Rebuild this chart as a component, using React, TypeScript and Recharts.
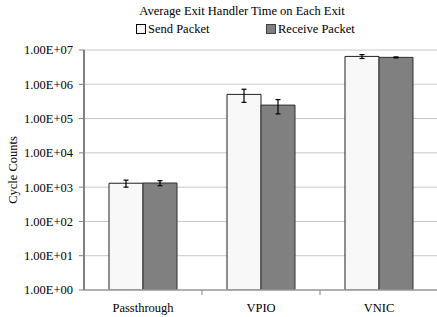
import React from 'react';
import { BarChart, Bar, XAxis, YAxis, CartesianGrid, ErrorBar, Legend } from 'recharts';

const categories = ['Passthrough', 'VPIO', 'VNIC'];
const sendValues = [1300, 507000, 6500000];
const sendErrors = [300, 210000, 850000];
const receiveValues = [1320, 247000, 6100000];
const receiveErrors = [220, 110000, 200000];
const yTicks = [1, 10, 100, 1000, 10000, 100000, 1000000, 10000000];
const seriesNames = ['Send Packet', 'Receive Packet'];
const title = 'Average Exit Handler Time on Each Exit';

const data = categories.map((c, i) => ({
  name: c,
  send: sendValues[i],
  sendErr: sendErrors[i],
  receive: receiveValues[i],
  receiveErr: receiveErrors[i],
}));

const CHART_W = 438;
const CHART_H = 317;
const Y_AXIS_W = 84;
const BAND = (CHART_W - Y_AXIS_W) / categories.length;
const FONT = 'Liberation Serif';

const fmt = (v: number) => {
  const e = Math.round(Math.log10(v));
  return '1.00E+' + (e < 10 ? '0' + e : String(e));
};

const XTick = (props: any) => {
  const { x, y, payload, index } = props;
  return (
    <g>
      <text x={x} y={y + 22} textAnchor="middle" fontFamily={FONT} fontSize={12.5} fill="#000">
        {payload.value}
      </text>
      {index < categories.length - 1 && (
        <line x1={x + BAND / 2} x2={x + BAND / 2} y1={y} y2={y + 5} stroke="#808080" strokeWidth={1} />
      )}
    </g>
  );
};

const LegendContent = () => (
  <div style={{ position: 'relative', width: CHART_W, height: 40, fontFamily: FONT, fontSize: 12.5, color: '#000' }}>
    <div style={{ position: 'absolute', left: 0, width: 484, top: 4, textAlign: 'center', lineHeight: '14px' }}>{title}</div>
    <div style={{ position: 'absolute', left: 136, top: 22, display: 'flex', alignItems: 'center', lineHeight: '14px' }}>
      <span style={{ display: 'inline-block', width: 8, height: 8, border: '1px solid #000', background: '#f8f8f8', marginRight: 2 }} />
      <span>{seriesNames[0]}</span>
    </div>
    <div style={{ position: 'absolute', left: 266, top: 22, display: 'flex', alignItems: 'center', lineHeight: '14px' }}>
      <span style={{ display: 'inline-block', width: 8, height: 8, border: '1px solid #404040', background: '#808080', marginRight: 2 }} />
      <span>{seriesNames[1]}</span>
    </div>
  </div>
);

export default function App() {
  return (
    <div style={{ position: 'absolute', left: 0, top: 0, width: 437, height: 317, overflow: 'hidden', background: '#fff', fontFamily: FONT }}>
      <BarChart
        width={CHART_W}
        height={CHART_H}
        data={data}
        margin={{ top: 10, right: 0, bottom: 0, left: 0 }}
        barGap={0}
        barSize={34}
      >
        <Legend verticalAlign="top" align="center" wrapperStyle={{ top: 0, left: 0, width: CHART_W }} content={<LegendContent />} />
        <CartesianGrid vertical={false} stroke="#c8c8c8" strokeWidth={1} />
        <XAxis
          dataKey="name"
          height={27}
          tick={<XTick />}
          tickLine={false}
          tickSize={0}
          tickMargin={0}
          axisLine={{ stroke: '#a0a0a0', strokeWidth: 1.5 }}
          interval={0}
        />
        <YAxis
          scale="log"
          domain={[1, 10000000]}
          ticks={yTicks}
          tickFormatter={fmt}
          allowDataOverflow
          width={Y_AXIS_W}
          tick={{ fontFamily: FONT, fontSize: 12.5, fill: '#000' }}
          tickSize={5}
          tickMargin={6}
          tickLine={{ stroke: '#808080' }}
          axisLine={{ stroke: '#808080', strokeWidth: 2 }}
          interval={0}
          label={{
            value: 'Cycle Counts',
            angle: -90,
            position: 'insideLeft',
            offset: 13,
            style: { textAnchor: 'middle', fontFamily: FONT, fontSize: 12.5, fill: '#000' },
          }}
        />
        <Bar dataKey="send" name={seriesNames[0]} fill="#f8f8f8" stroke="#202020" strokeWidth={1} isAnimationActive={false}>
          <ErrorBar dataKey="sendErr" width={2.5} stroke="#000" strokeWidth={1.2} />
        </Bar>
        <Bar dataKey="receive" name={seriesNames[1]} fill="#808080" stroke="#303030" strokeWidth={1} isAnimationActive={false}>
          <ErrorBar dataKey="receiveErr" width={2.5} stroke="#000" strokeWidth={1.2} />
        </Bar>
      </BarChart>
    </div>
  );
}
